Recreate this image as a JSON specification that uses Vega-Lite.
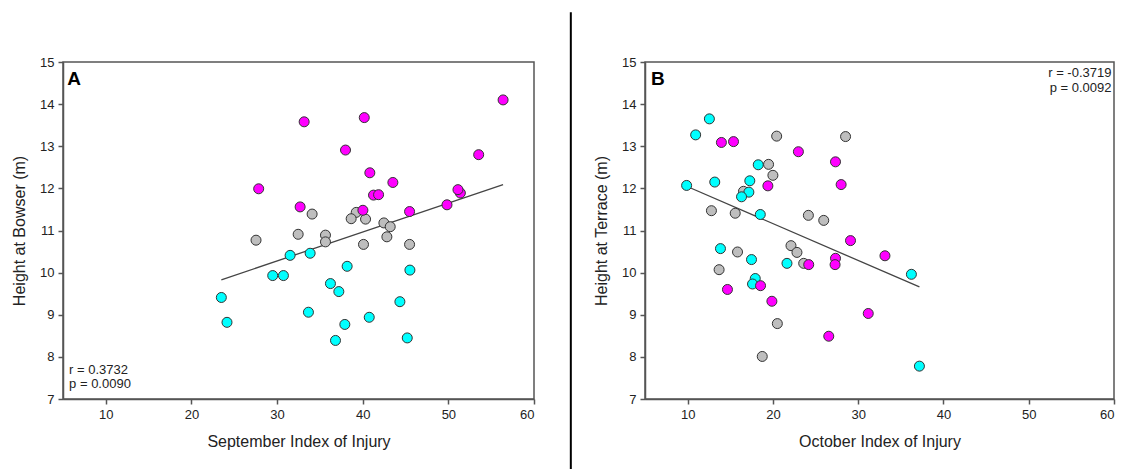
{
  "$schema": "https://vega.github.io/schema/vega-lite/v6.json",
  "padding": {"left": 10, "top": 10, "right": 0, "bottom": 2},
  "bounds": "flush",
  "spacing": 111,
  "config": {
    "font": "Liberation Sans",
    "view": {"stroke": "#555555", "strokeWidth": 1.5},
    "axis": {
      "grid": false,
      "domainColor": "#555555",
      "domainWidth": 1.5,
      "tickColor": "#555555",
      "tickWidth": 1.5,
      "tickSize": 5,
      "labelFontSize": 13,
      "labelColor": "#222222",
      "labelPadding": 4,
      "titleFontSize": 16,
      "titleFontWeight": "normal",
      "titleColor": "#222222",
      "titlePadding": 12
    }
  },
  "datasets": {
    "bowser": [
      {"injury": 27.54, "height": 10.77, "group": "G"},
      {"injury": 34.09, "height": 11.39, "group": "G"},
      {"injury": 39.24, "height": 11.43, "group": "G"},
      {"injury": 38.65, "height": 11.28, "group": "G"},
      {"injury": 40.33, "height": 11.27, "group": "G"},
      {"injury": 42.47, "height": 11.18, "group": "G"},
      {"injury": 43.21, "height": 11.09, "group": "G"},
      {"injury": 42.82, "height": 10.85, "group": "G"},
      {"injury": 32.46, "height": 10.91, "group": "G"},
      {"injury": 35.65, "height": 10.89, "group": "G"},
      {"injury": 35.65, "height": 10.73, "group": "G"},
      {"injury": 40.09, "height": 10.67, "group": "G"},
      {"injury": 45.47, "height": 10.67, "group": "G"},
      {"injury": 23.49, "height": 9.41, "group": "C"},
      {"injury": 24.15, "height": 8.82, "group": "C"},
      {"injury": 29.49, "height": 9.93, "group": "C"},
      {"injury": 30.74, "height": 9.93, "group": "C"},
      {"injury": 31.52, "height": 10.41, "group": "C"},
      {"injury": 33.86, "height": 10.46, "group": "C"},
      {"injury": 38.18, "height": 10.15, "group": "C"},
      {"injury": 45.51, "height": 10.06, "group": "C"},
      {"injury": 36.23, "height": 9.74, "group": "C"},
      {"injury": 37.21, "height": 9.55, "group": "C"},
      {"injury": 44.34, "height": 9.31, "group": "C"},
      {"injury": 33.66, "height": 9.06, "group": "C"},
      {"injury": 40.76, "height": 8.94, "group": "C"},
      {"injury": 37.91, "height": 8.77, "group": "C"},
      {"injury": 36.82, "height": 8.39, "group": "C"},
      {"injury": 45.2, "height": 8.45, "group": "C"},
      {"injury": 27.85, "height": 11.99, "group": "M"},
      {"injury": 32.69, "height": 11.56, "group": "M"},
      {"injury": 33.16, "height": 13.58, "group": "M"},
      {"injury": 37.99, "height": 12.91, "group": "M"},
      {"injury": 40.18, "height": 13.68, "group": "M"},
      {"injury": 40.83, "height": 12.37, "group": "M"},
      {"injury": 41.26, "height": 11.84, "group": "M"},
      {"injury": 41.85, "height": 11.85, "group": "M"},
      {"injury": 43.52, "height": 12.14, "group": "M"},
      {"injury": 40.02, "height": 11.48, "group": "M"},
      {"injury": 45.47, "height": 11.45, "group": "M"},
      {"injury": 49.84, "height": 11.61, "group": "M"},
      {"injury": 51.4, "height": 11.89, "group": "M"},
      {"injury": 51.12, "height": 11.97, "group": "M"},
      {"injury": 53.54, "height": 12.8, "group": "M"},
      {"injury": 56.39, "height": 14.1, "group": "M"}
    ],
    "terrace": [
      {"injury": 20.44, "height": 13.24, "group": "G"},
      {"injury": 28.52, "height": 13.23, "group": "G"},
      {"injury": 19.49, "height": 12.57, "group": "G"},
      {"injury": 20.0, "height": 12.31, "group": "G"},
      {"injury": 16.55, "height": 11.93, "group": "G"},
      {"injury": 12.79, "height": 11.47, "group": "G"},
      {"injury": 15.58, "height": 11.41, "group": "G"},
      {"injury": 24.16, "height": 11.36, "group": "G"},
      {"injury": 25.96, "height": 11.24, "group": "G"},
      {"injury": 15.85, "height": 10.49, "group": "G"},
      {"injury": 22.12, "height": 10.64, "group": "G"},
      {"injury": 22.82, "height": 10.48, "group": "G"},
      {"injury": 23.61, "height": 10.22, "group": "G"},
      {"injury": 13.69, "height": 10.07, "group": "G"},
      {"injury": 20.52, "height": 8.79, "group": "G"},
      {"injury": 18.75, "height": 8.01, "group": "G"},
      {"injury": 12.55, "height": 13.65, "group": "C"},
      {"injury": 10.94, "height": 13.27, "group": "C"},
      {"injury": 18.28, "height": 12.56, "group": "C"},
      {"injury": 9.88, "height": 12.07, "group": "C"},
      {"injury": 13.18, "height": 12.15, "group": "C"},
      {"injury": 17.29, "height": 12.18, "group": "C"},
      {"injury": 17.18, "height": 11.91, "group": "C"},
      {"injury": 16.32, "height": 11.8, "group": "C"},
      {"injury": 18.52, "height": 11.38, "group": "C"},
      {"injury": 13.85, "height": 10.57, "group": "C"},
      {"injury": 17.49, "height": 10.31, "group": "C"},
      {"injury": 21.65, "height": 10.22, "group": "C"},
      {"injury": 17.93, "height": 9.86, "group": "C"},
      {"injury": 17.61, "height": 9.73, "group": "C"},
      {"injury": 36.24, "height": 9.96, "group": "C"},
      {"injury": 37.18, "height": 7.78, "group": "C"},
      {"injury": 13.96, "height": 13.09, "group": "M"},
      {"injury": 15.38, "height": 13.11, "group": "M"},
      {"injury": 22.99, "height": 12.87, "group": "M"},
      {"injury": 27.34, "height": 12.63, "group": "M"},
      {"injury": 28.0, "height": 12.09, "group": "M"},
      {"injury": 19.41, "height": 12.06, "group": "M"},
      {"injury": 29.1, "height": 10.76, "group": "M"},
      {"injury": 24.2, "height": 10.19, "group": "M"},
      {"injury": 27.34, "height": 10.34, "group": "M"},
      {"injury": 27.29, "height": 10.19, "group": "M"},
      {"injury": 18.55, "height": 9.69, "group": "M"},
      {"injury": 14.67, "height": 9.6, "group": "M"},
      {"injury": 19.88, "height": 9.32, "group": "M"},
      {"injury": 26.55, "height": 8.49, "group": "M"},
      {"injury": 33.14, "height": 10.4, "group": "M"},
      {"injury": 31.18, "height": 9.03, "group": "M"}
    ],
    "bowserFit": [
      {"injury": 23.49, "height": 9.83},
      {"injury": 56.39, "height": 12.09}
    ],
    "terraceFit": [
      {"injury": 9.88, "height": 12.05},
      {"injury": 37.18, "height": 9.66}
    ],
    "divider": [
      {"injury": 64.3, "bottom": 5.34, "top": 16.18}
    ],
    "bowserNotes": [
      {"injury": 5.51, "height": 14.46, "label": "A", "kind": "panel"},
      {"injury": 5.71, "height": 7.6, "label": "r = 0.3732", "kind": "stat"},
      {"injury": 5.71, "height": 7.27, "label": "p = 0.0090", "kind": "stat"}
    ],
    "terraceNotes": [
      {"injury": 5.7, "height": 14.46, "label": "B", "kind": "panel"},
      {"injury": 59.7, "height": 14.64, "label": "r = -0.3719", "kind": "stat"},
      {"injury": 59.7, "height": 14.29, "label": "p = 0.0092", "kind": "stat"}
    ]
  },
  "hconcat": [
    {
      "width": 471,
      "height": 337,
      "encoding": {
        "x": {
          "field": "injury", "type": "quantitative",
          "scale": {"domain": [5, 60], "nice": false, "zero": false},
          "axis": {"title": "September Index of Injury", "values": [10, 20, 30, 40, 50, 60]}
        },
        "y": {
          "field": "height", "type": "quantitative",
          "scale": {"domain": [7, 15], "nice": false, "zero": false},
          "axis": {"title": "Height at Bowser (m)", "values": [7, 8, 9, 10, 11, 12, 13, 14, 15]}
        }
      },
      "layer": [
        {
          "data": {"name": "bowserFit"},
          "mark": {"type": "line", "color": "#444444", "strokeWidth": 1.3}
        },
        {
          "data": {"name": "bowser"},
          "mark": {"type": "point", "filled": true, "opacity": 1, "size": 100, "stroke": "#333333", "strokeWidth": 1},
          "encoding": {
            "color": {
              "field": "group", "type": "nominal", "legend": null,
              "scale": {"domain": ["G", "C", "M"], "range": ["#BEBEBE", "#00FFFF", "#FF00FF"]}
            }
          }
        },
        {
          "data": {"name": "bowserNotes"},
          "transform": [{"filter": "datum.kind === 'panel'"}],
          "mark": {"type": "text", "align": "left", "baseline": "alphabetic", "fontSize": 19, "fontWeight": "bold", "color": "#000000"},
          "encoding": {"text": {"field": "label"}}
        },
        {
          "data": {"name": "bowserNotes"},
          "transform": [{"filter": "datum.kind === 'stat'"}],
          "mark": {"type": "text", "align": "left", "baseline": "alphabetic", "fontSize": 13, "color": "#222222"},
          "encoding": {"text": {"field": "label"}}
        },
        {
          "data": {"name": "divider"},
          "mark": {"type": "rule", "color": "#000000", "strokeWidth": 2},
          "encoding": {
            "y": {"field": "bottom", "type": "quantitative"},
            "y2": {"field": "top"}
          }
        }
      ]
    },
    {
      "width": 469,
      "height": 337,
      "encoding": {
        "x": {
          "field": "injury", "type": "quantitative",
          "scale": {"domain": [5, 60], "nice": false, "zero": false},
          "axis": {"title": "October Index of Injury", "values": [10, 20, 30, 40, 50, 60]}
        },
        "y": {
          "field": "height", "type": "quantitative",
          "scale": {"domain": [7, 15], "nice": false, "zero": false},
          "axis": {"title": "Height at Terrace (m)", "values": [7, 8, 9, 10, 11, 12, 13, 14, 15]}
        }
      },
      "layer": [
        {
          "data": {"name": "terraceFit"},
          "mark": {"type": "line", "color": "#444444", "strokeWidth": 1.3}
        },
        {
          "data": {"name": "terrace"},
          "mark": {"type": "point", "filled": true, "opacity": 1, "size": 100, "stroke": "#333333", "strokeWidth": 1},
          "encoding": {
            "color": {
              "field": "group", "type": "nominal", "legend": null,
              "scale": {"domain": ["G", "C", "M"], "range": ["#BEBEBE", "#00FFFF", "#FF00FF"]}
            }
          }
        },
        {
          "data": {"name": "terraceNotes"},
          "transform": [{"filter": "datum.kind === 'panel'"}],
          "mark": {"type": "text", "align": "left", "baseline": "alphabetic", "fontSize": 19, "fontWeight": "bold", "color": "#000000"},
          "encoding": {"text": {"field": "label"}}
        },
        {
          "data": {"name": "terraceNotes"},
          "transform": [{"filter": "datum.kind === 'stat'"}],
          "mark": {"type": "text", "align": "right", "baseline": "alphabetic", "fontSize": 13, "color": "#222222"},
          "encoding": {"text": {"field": "label"}}
        }
      ]
    }
  ]
}
